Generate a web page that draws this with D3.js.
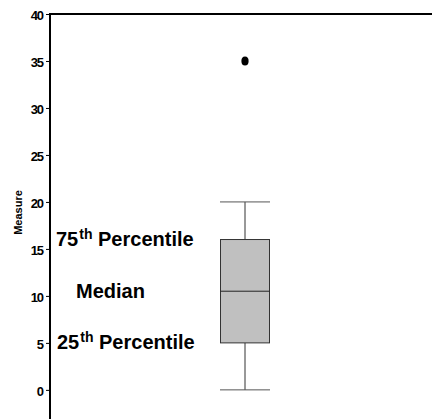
<!DOCTYPE html>
<html><head><meta charset="utf-8">
<script src="https://cdn.jsdelivr.net/npm/d3@7"></script>
<style>
html,body{margin:0;padding:0;background:#fff;}
text{font-family:"Liberation Sans",Arial,Helvetica,sans-serif;font-weight:bold;}
</style></head>
<body>
<svg id="chart" width="432" height="419"></svg>
<script>
const categories = ["Group"];
const whiskerLow = [0];
const q1 = [5];
const median = [10.5];
const q3 = [16];
const whiskerHigh = [20];
const outliers = [35];
const yTicks = [0, 5, 10, 15, 20, 25, 30, 35, 40];
const annotations = [
  {num: "75", sup: "th", rest: " Percentile", key: "q3"},
  {num: "Median", sup: "", rest: "", key: "median"},
  {num: "25", sup: "th", rest: " Percentile", key: "q1"}
];

const svg = d3.select("#chart");
const y = d3.scaleLinear().domain([-3.1, 40]).range([419, 14]);
const x = d3.scalePoint().domain(categories).range([50, 440]).padding(0.5);

// top border
svg.append("line").attr("x1", 50).attr("x2", 432).attr("y1", y(40)).attr("y2", y(40))
  .attr("stroke", "#000").attr("stroke-width", 2);

// y axis
const axis = d3.axisLeft(y).tickValues(yTicks).tickSize(4).tickPadding(3);
const gA = svg.append("g").attr("transform", "translate(50,0)").call(axis);
gA.select(".domain").remove();
gA.selectAll(".tick line").attr("stroke", "#000");
gA.selectAll(".tick text").attr("font-size", 13).attr("fill", "#000").attr("dy", "0.4em")
  .attr("letter-spacing", -1.1).attr("font-family", "'Liberation Sans',Arial,sans-serif").attr("font-weight", "bold");
svg.append("line").attr("x1", 50).attr("x2", 50).attr("y1", y(40) - 1).attr("y2", 419)
  .attr("stroke", "#000").attr("stroke-width", 2);

// axis title
svg.append("text").attr("transform", `translate(22,${(14 + 419) / 2 - 4}) rotate(-90)`)
  .attr("text-anchor", "middle").attr("font-size", 11).attr("fill", "#000").text("Measure");

const bw = 49, cw = 50;
categories.forEach((c, i) => {
  const cx = x(c);
  svg.append("line").attr("x1", cx).attr("x2", cx).attr("y1", y(whiskerHigh[i])).attr("y2", y(q3[i]))
    .attr("stroke", "#333").attr("stroke-width", 1);
  svg.append("line").attr("x1", cx).attr("x2", cx).attr("y1", y(q1[i])).attr("y2", y(whiskerLow[i]))
    .attr("stroke", "#333").attr("stroke-width", 1);
  [whiskerHigh[i], whiskerLow[i]].forEach(v => {
    svg.append("line").attr("x1", cx - cw / 2).attr("x2", cx + cw / 2).attr("y1", y(v)).attr("y2", y(v))
      .attr("stroke", "#555").attr("stroke-width", 1);
  });
  svg.append("rect").attr("x", cx - bw / 2).attr("y", y(q3[i])).attr("width", bw)
    .attr("height", y(q1[i]) - y(q3[i])).attr("fill", "#c0c0c0").attr("stroke", "#333").attr("stroke-width", 1);
  svg.append("line").attr("x1", cx - bw / 2).attr("x2", cx + bw / 2).attr("y1", y(median[i])).attr("y2", y(median[i]))
    .attr("stroke", "#222").attr("stroke-width", 1);
  svg.append("ellipse").attr("cx", cx).attr("cy", y(outliers[i])).attr("rx", 3.6).attr("ry", 4.5).attr("fill", "#000");
});

// annotations
const vals = {q3: q3[0], median: median[0], q1: q1[0]};
const ax = {q3: 56, median: 76, q1: 57};
annotations.forEach(a => {
  const t = svg.append("text").attr("x", ax[a.key]).attr("y", y(vals[a.key]) + 6.5)
    .attr("font-size", 20).attr("fill", "#000");
  t.append("tspan").text(a.num);
  if (a.sup) {
    t.append("tspan").attr("font-size", 14).attr("dx", 1).attr("dy", -7).text(a.sup);
    t.append("tspan").attr("dy", 7).text(a.rest);
  }
});
</script>
</body></html>
